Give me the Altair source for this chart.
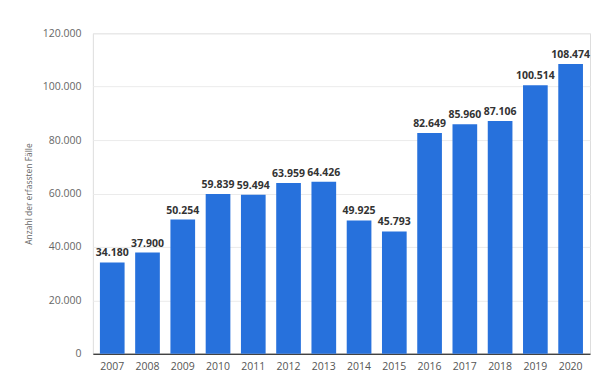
import altair as alt
import pandas as pd

years = ["2007", "2008", "2009", "2010", "2011", "2012", "2013", "2014", "2015", "2016", "2017", "2018", "2019", "2020"]
values = [34180, 37900, 50254, 59839, 59494, 63959, 64426, 49925, 45793, 82649, 85960, 87106, 100514, 108474]

df = pd.DataFrame({"Jahr": years, "Wert": values})
df["Label"] = [f"{v:,}".replace(",", ".") for v in values]

base = alt.Chart(df).encode(
    x=alt.X("Jahr:N", sort=years, title=None,
            scale=alt.Scale(paddingInner=0.3, paddingOuter=0.2),
            axis=alt.Axis(labelAngle=0, ticks=False, domainColor="#000000",
                          labelColor="#555555", labelFontSize=10.5, labelPadding=8,
                          labelFont="Open Sans")),
    y=alt.Y("Wert:Q", title="Anzahl der erfassten Fälle",
            scale=alt.Scale(domain=[0, 120000]),
            axis=alt.Axis(values=[0, 20000, 40000, 60000, 80000, 100000, 120000],
                          labelExpr="replace(format(datum.value, ','), ',', '.')",
                          domain=False, ticks=False, labelPadding=12,
                          labelColor="#666666", labelFontSize=10.5, labelFont="Open Sans",
                          titleColor="#666666", titleFontSize=8.5, titleFontWeight="normal",
                          titleFont="Open Sans", titlePadding=9,
                          gridColor="#ebebeb")),
)

bars = base.mark_bar(color="#2771dc")
text = base.mark_text(dy=-9, fontWeight="bold", fontSize=10.5, color="#333333",
                      font="Open Sans").encode(text="Label:N")

chart = (bars + text).properties(
    width=498, height=321,
    autosize=alt.AutoSizeParams(type="none"),
    padding={"left": 85, "top": 25, "right": 8, "bottom": 26},
).configure_view(stroke=None).configure(background="white")

chart.save("out.html", embed_options={"renderer": "svg", "actions": False})
